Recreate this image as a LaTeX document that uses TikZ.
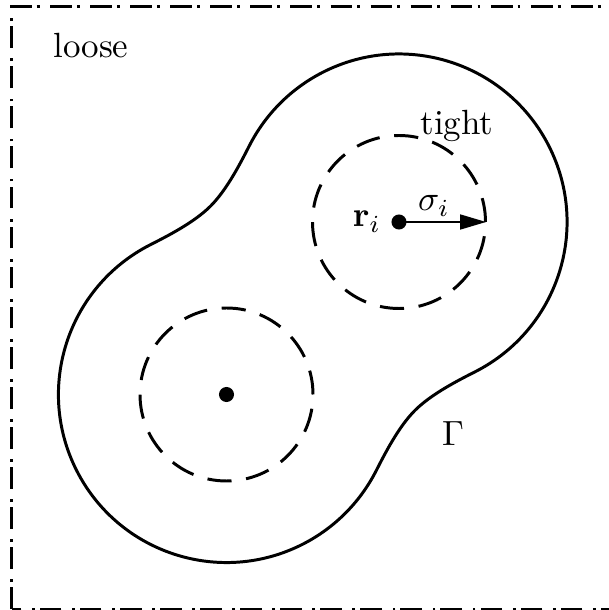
\documentclass[tikz,border=0pt]{standalone}
\usetikzlibrary{arrows.meta,calc}
\begin{document}
\begin{tikzpicture}[x=0.2857pt,y=0.2857pt,
  outline/.style={line width=0.85pt,line join=round},
  tightcirc/.style={line width=0.85pt,dash pattern=on 6.9pt off 4.2pt},
  border/.style={line width=0.85pt,dash pattern=on 6.2pt off 1.45pt on 0.8pt off 3.0pt},
  dotnode/.style={circle,fill=black,inner sep=0pt,minimum size=4.3pt},
  arrowline/.style={line width=0.4pt,-{Triangle[length=7.4pt,width=4.3pt]}},
  lbl/.style={anchor=base,inner sep=0pt}]
\useasboundingbox (0,0) rectangle (609,610);
\draw[border] (11.5,1) rectangle (616,603.7);
\coordinate (A) at (399,388);
\coordinate (B) at (226.5,215.5);
% outer contour Gamma (local frame: centres on the u axis)
\begin{scope}[shift={(312.75,301.75)},rotate=45]
\draw[outline] (70.1,-159.8) arc[start angle=-108,end angle=108,radius=168*0.2857pt]
  .. controls (51.1,153.6) and (23,144.5) .. (0,144.5)
  .. controls (-23,144.5) and (-51.1,153.6) .. (-70.1,159.8)
  arc[start angle=72,end angle=288,radius=168*0.2857pt]
  .. controls (-51.1,-153.6) and (-23,-144.5) .. (0,-144.5)
  .. controls (23,-144.5) and (51.1,-153.6) .. (70.1,-159.8) -- cycle;
\end{scope}
% tight circles
\draw[tightcirc] (A) circle[radius=86.5*0.2857pt];
\draw[tightcirc] (B) circle[radius=86.5*0.2857pt];
% centres
\node[dotnode] (c1) at (A) {};
\node[dotnode] (c2) at (B) {};
\coordinate (e1) at (486,388);
\draw[arrowline] (c1.center) -- (e1);
% labels
\node[lbl] (loose) at (91,552) {loose};
\node[lbl] (tight) at (457,475) {tight};
\node[lbl] (gamma) at (453,164) {$\Gamma$};
\node[lbl] (ri) at (367,383) {$\mathbf{r}_i$};
\node[lbl] (sig) at (434,399) {$\sigma_i$};
\end{tikzpicture}
\end{document}
